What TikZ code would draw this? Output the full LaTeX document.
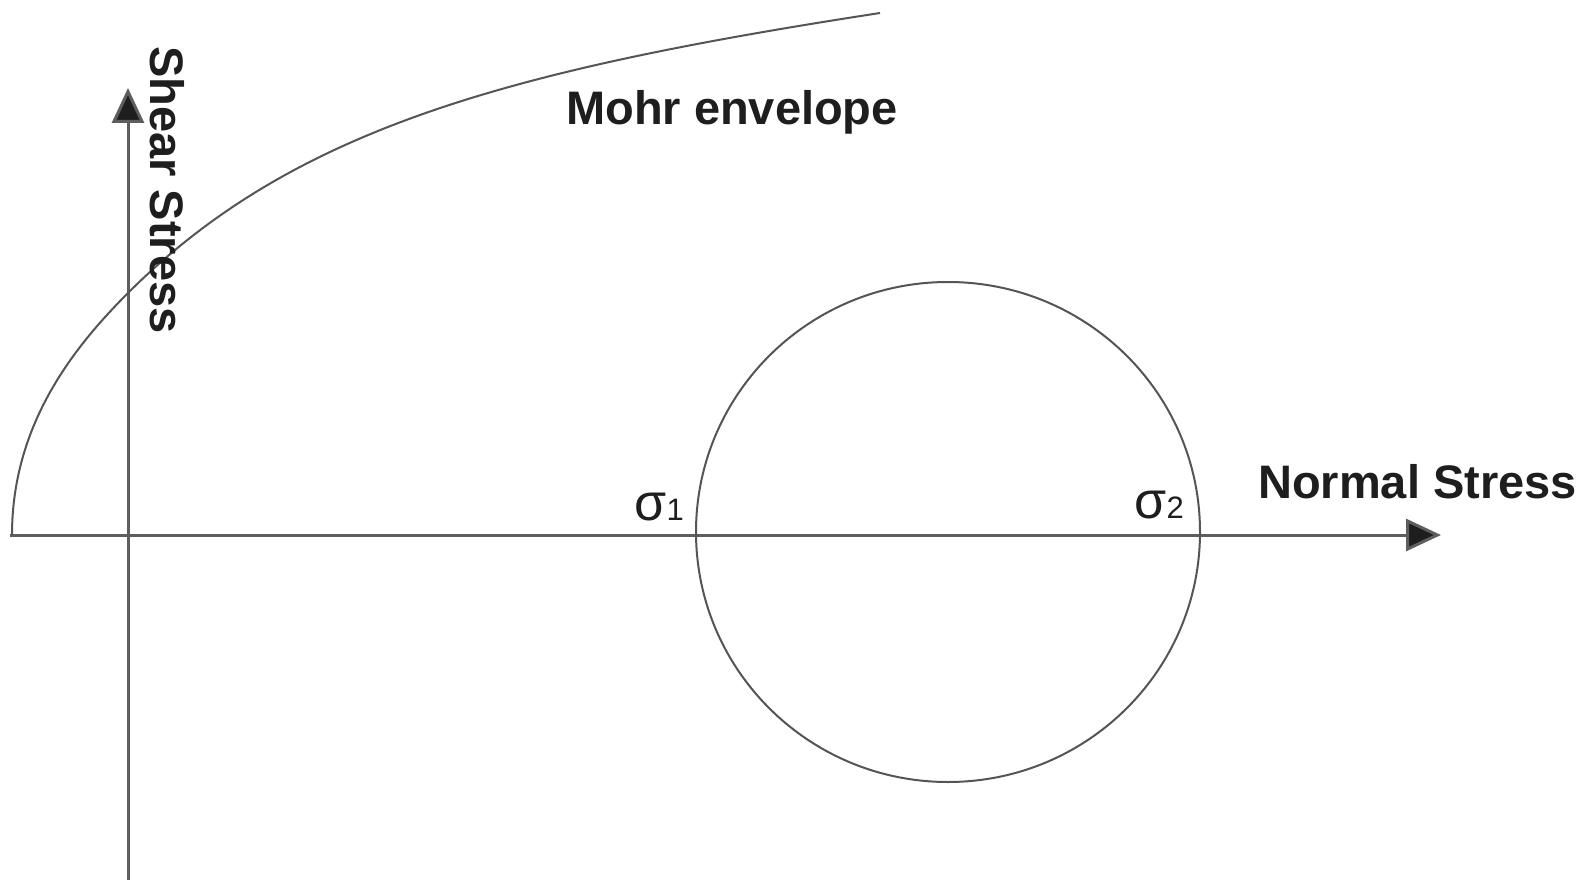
\documentclass[tikz,border=0pt]{standalone}
\usepackage{fontspec}
\setmainfont{Liberation Sans}
\usetikzlibrary{arrows.meta}
\definecolor{axisgray}{HTML}{5E5E5E}
\definecolor{curvegray}{HTML}{555555}
\definecolor{textdark}{HTML}{1E1E1E}
\begin{document}
\begin{tikzpicture}[x=1pt,y=-1pt,
  axisline/.style={draw=axisgray,line width=3pt,-{Triangle[length=35pt,width=32pt,fill=textdark]}},
  curveline/.style={draw=curvegray,line width=2pt},
  biglabel/.style={font=\fontsize{47}{54}\selectfont\bfseries,text=textdark,inner sep=0pt},
  siglabel/.style={font=\fontsize{52}{58}\selectfont,text=textdark,inner sep=0pt}]
\useasboundingbox[fill=white] (0,0) rectangle (1593,880);
% axes
\coordinate (xstart) at (10,535);
\coordinate (xend) at (1441,535);
\coordinate (ystart) at (128,880);
\coordinate (yend) at (128,88);
\draw[axisline] (xstart) -- (xend);
\draw[axisline] (ystart) -- (yend);
% Mohr envelope
\coordinate (e0) at (12,535);
\coordinate (e1) at (128,293);
\coordinate (e2) at (880,13);
\draw[curveline] (e0) .. controls (12,425) and (73,348) .. (e1)
  .. controls (293,128) and (510,70) .. (e2);
% Mohr circle
\draw[curveline] (948,532) ellipse [x radius=252pt,y radius=250pt];
% labels
\node[biglabel,anchor=base west] (mohr) at (566,125) {Mohr envelope};
\node[biglabel,anchor=base west] (normal) at (1258,498) {Normal Stress};
\node[biglabel,anchor=base west,rotate=-90] (shear) at (150,46) {Shear Stress};
\node[siglabel,anchor=base east] (s1) at (684,520) {σ\fontsize{31}{36}\selectfont 1};
\node[siglabel,anchor=base east] (s2) at (1184,518) {σ\fontsize{31}{36}\selectfont 2};
\end{tikzpicture}
\end{document}
